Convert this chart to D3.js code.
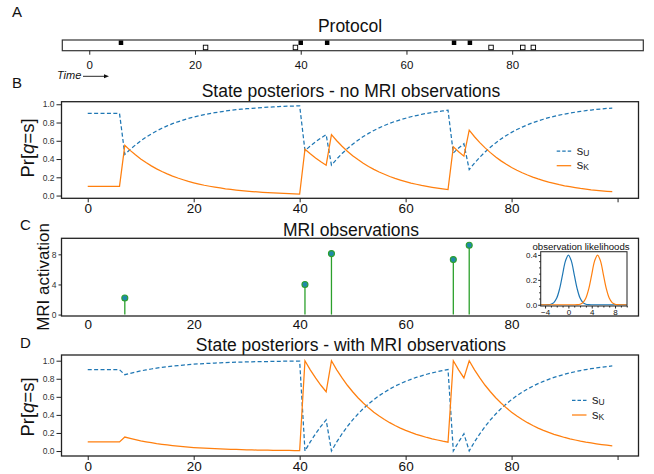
<!DOCTYPE html>
<html>
<head>
<meta charset="utf-8">
<script src="https://cdn.jsdelivr.net/npm/d3@7"></script>
<style>
  body { margin: 0; background: #fff; }
  svg { font-family: "Liberation Sans", Arial, Helvetica, sans-serif; }
</style>
</head>
<body>
<svg id="fig" width="654" height="474"></svg>
<script>
// time steps of the simulation
const times = d3.range(0, 100);

// protocol events
const protocolFilled = [6, 40, 45, 69, 72];
const protocolOpen = [22, 39, 76, 82, 84];

// state posteriors without MRI observations
const sK_noMRI = [
  0.100, 0.100, 0.100, 0.100, 0.100, 0.100, 0.100, 0.550, 0.495, 0.446,
  0.401, 0.361, 0.325, 0.292, 0.263, 0.237, 0.213, 0.192, 0.173, 0.155,
  0.140, 0.126, 0.113, 0.102, 0.092, 0.083, 0.074, 0.067, 0.060, 0.054,
  0.049, 0.044, 0.040, 0.036, 0.032, 0.029, 0.026, 0.023, 0.021, 0.019,
  0.017, 0.508, 0.458, 0.412, 0.370, 0.333, 0.667, 0.600, 0.540, 0.486,
  0.437, 0.394, 0.354, 0.319, 0.287, 0.258, 0.233, 0.209, 0.188, 0.170,
  0.153, 0.137, 0.124, 0.111, 0.100, 0.090, 0.081, 0.073, 0.066, 0.533,
  0.480, 0.432, 0.716, 0.644, 0.580, 0.522, 0.470, 0.423, 0.380, 0.342,
  0.308, 0.277, 0.250, 0.225, 0.202, 0.182, 0.164, 0.147, 0.133, 0.119,
  0.107, 0.097, 0.087, 0.078, 0.071, 0.063, 0.057, 0.051, 0.046, 0.042
];
const sU_noMRI = [
  0.900, 0.900, 0.900, 0.900, 0.900, 0.900, 0.900, 0.450, 0.505, 0.554,
  0.599, 0.639, 0.675, 0.708, 0.737, 0.763, 0.787, 0.808, 0.827, 0.845,
  0.860, 0.874, 0.887, 0.898, 0.908, 0.917, 0.926, 0.933, 0.940, 0.946,
  0.951, 0.956, 0.960, 0.964, 0.968, 0.971, 0.974, 0.977, 0.979, 0.981,
  0.983, 0.492, 0.542, 0.588, 0.630, 0.667, 0.333, 0.400, 0.460, 0.514,
  0.563, 0.606, 0.646, 0.681, 0.713, 0.742, 0.767, 0.791, 0.812, 0.830,
  0.847, 0.863, 0.876, 0.889, 0.900, 0.910, 0.919, 0.927, 0.934, 0.467,
  0.520, 0.568, 0.284, 0.356, 0.420, 0.478, 0.530, 0.577, 0.620, 0.658,
  0.692, 0.723, 0.750, 0.775, 0.798, 0.818, 0.836, 0.853, 0.867, 0.881,
  0.893, 0.903, 0.913, 0.922, 0.929, 0.937, 0.943, 0.949, 0.954, 0.958
];

// MRI observations
const mriTimes = [7, 41, 46, 69, 72];
const mriValues = [2.2, 4.0, 8.1, 7.3, 9.2];

// observation likelihoods (inset)
const likX = [-5, -4.5, -4, -3.5, -3, -2.5, -2, -1.5, -1, -0.5, 0, 0.5, 1, 1.5, 2, 2.5,
  3, 3.5, 4, 4.5, 5, 5.5, 6, 6.5, 7, 7.5, 8, 8.5, 9, 9.5, 10];
const likU = [0, 0, 0.0001, 0.0009, 0.0044, 0.0175, 0.054, 0.1295, 0.242, 0.3521, 0.3989,
  0.3521, 0.242, 0.1295, 0.054, 0.0175, 0.0044, 0.0009, 0.0001, 0, 0, 0, 0, 0, 0, 0, 0, 0, 0, 0, 0];
const likK = [0, 0, 0, 0, 0, 0, 0, 0, 0, 0, 0, 0, 0.0001, 0.0009, 0.0044, 0.0175, 0.054,
  0.1295, 0.242, 0.3521, 0.3989, 0.3521, 0.242, 0.1295, 0.054, 0.0175, 0.0044, 0.0009, 0.0001, 0, 0];

// state posteriors with MRI observations
const sK_MRI = [
  0.100, 0.100, 0.100, 0.100, 0.100, 0.100, 0.100, 0.155, 0.140, 0.126,
  0.113, 0.102, 0.092, 0.082, 0.074, 0.067, 0.060, 0.054, 0.049, 0.044,
  0.039, 0.035, 0.032, 0.029, 0.026, 0.023, 0.021, 0.019, 0.017, 0.015,
  0.014, 0.012, 0.011, 0.010, 0.009, 0.008, 0.007, 0.006, 0.006, 0.005,
  0.005, 0.999, 0.899, 0.809, 0.728, 0.656, 0.999, 0.899, 0.809, 0.728,
  0.656, 0.590, 0.531, 0.478, 0.430, 0.387, 0.349, 0.314, 0.282, 0.254,
  0.229, 0.206, 0.185, 0.167, 0.150, 0.135, 0.122, 0.109, 0.098, 0.999,
  0.899, 0.809, 0.999, 0.899, 0.809, 0.728, 0.656, 0.590, 0.531, 0.478,
  0.430, 0.387, 0.349, 0.314, 0.282, 0.254, 0.229, 0.206, 0.185, 0.167,
  0.150, 0.135, 0.122, 0.109, 0.098, 0.089, 0.080, 0.072, 0.065, 0.058
];
const sU_MRI = [
  0.900, 0.900, 0.900, 0.900, 0.900, 0.900, 0.900, 0.845, 0.860, 0.874,
  0.887, 0.898, 0.908, 0.918, 0.926, 0.933, 0.940, 0.946, 0.951, 0.956,
  0.961, 0.965, 0.968, 0.971, 0.974, 0.977, 0.979, 0.981, 0.983, 0.985,
  0.986, 0.988, 0.989, 0.990, 0.991, 0.992, 0.993, 0.994, 0.994, 0.995,
  0.995, 0.001, 0.101, 0.191, 0.272, 0.344, 0.001, 0.101, 0.191, 0.272,
  0.344, 0.410, 0.469, 0.522, 0.570, 0.613, 0.651, 0.686, 0.718, 0.746,
  0.771, 0.794, 0.815, 0.833, 0.850, 0.865, 0.878, 0.891, 0.902, 0.001,
  0.101, 0.191, 0.001, 0.101, 0.191, 0.272, 0.344, 0.410, 0.469, 0.522,
  0.570, 0.613, 0.651, 0.686, 0.718, 0.746, 0.771, 0.794, 0.815, 0.833,
  0.850, 0.865, 0.878, 0.891, 0.902, 0.911, 0.920, 0.928, 0.935, 0.942
];

const xTicks = [0, 20, 40, 60, 80];
const postTicks = [0, 0.2, 0.4, 0.6, 0.8, 1.0];
const mriTicks = [0, 4, 8];

const BLUE = "#1f77b4";
const ORANGE = "#ff7f0e";
const GREEN = "#2ca02c";
const SPINE = "#222";

const svg = d3.select("#fig");
svg.append("rect").attr("width", 654).attr("height", 474).attr("fill", "#fff");

// plot area shared by B, C, D
const PLOT_L = 61.5, PLOT_R = 638.5;
const xMain = d3.scaleLinear().domain([-4.95, 103.95]).range([PLOT_L, PLOT_R]);

drawProtocol();
drawPosterior(101.7, 198.3, [-0.03, 1.028], sU_noMRI, sK_noMRI, "State posteriors - no MRI observations", 96.5, 151, 148);
drawMRI();
drawPosterior(355, 456, [-0.055, 1.063], sU_MRI, sK_MRI, "State posteriors - with MRI observations", 350.5, 400.3, 407);

// panel letters
[["A", 12, 17], ["B", 12, 88], ["C", 20, 230], ["D", 20, 348]].forEach(p => {
  svg.append("text").attr("x", p[1]).attr("y", p[2]).attr("font-size", 15).attr("fill", "#111").text(p[0]);
});

function styleAxis (g, size) {
  g.select(".domain").remove();
  g.selectAll(".tick line").attr("stroke", SPINE);
  g.selectAll("text").attr("font-size", size).attr("fill", "#111")
    .attr("font-family", "'Liberation Sans', Arial, sans-serif");
}

function spines (top, bottom, left, right) {
  svg.append("rect")
    .attr("x", left).attr("y", top)
    .attr("width", right - left).attr("height", bottom - top)
    .attr("fill", "none").attr("stroke", SPINE).attr("stroke-width", 1.3);
}

/**
 * Panel A: protocol strip
 */
function drawProtocol () {
  let x = d3.scaleLinear().domain([-5.1, 104.8]).range([62.3, 643.3]);
  const top = 40, bottom = 50.7, sq = 4.5;

  svg.append("text").attr("x", 350).attr("y", 32).attr("text-anchor", "middle")
    .attr("font-size", 17.5).attr("fill", "#111").text("Protocol");

  svg.append("rect").attr("x", 62.3).attr("y", top).attr("width", 643.3 - 62.3)
    .attr("height", bottom - top).attr("fill", "#fff").attr("stroke", "#333").attr("stroke-width", 1.2);

  svg.selectAll(".pfill").data(protocolFilled).enter().append("rect")
    .attr("class", "pfill")
    .attr("x", d => x(d) - sq / 2).attr("y", top + 0.5)
    .attr("width", sq).attr("height", sq).attr("fill", "#000");

  svg.selectAll(".popen").data(protocolOpen).enter().append("rect")
    .attr("class", "popen")
    .attr("x", d => x(d) - sq / 2).attr("y", bottom - sq - 1)
    .attr("width", sq).attr("height", sq).attr("fill", "#fff").attr("stroke", "#000").attr("stroke-width", 0.9);

  let ax = svg.append("g").attr("transform", "translate(0," + bottom + ")")
    .call(d3.axisBottom(x).tickValues(xTicks).tickSize(4).tickPadding(6).tickFormat(d3.format("d")));
  styleAxis(ax, 11.5);

  // time arrow
  svg.append("text").attr("x", 57).attr("y", 78.5).attr("font-size", 11)
    .attr("font-style", "italic").attr("fill", "#111").text("Time");
  svg.append("line").attr("x1", 83).attr("x2", 105).attr("y1", 76.3).attr("y2", 76.3)
    .attr("stroke", "#111").attr("stroke-width", 0.9);
  svg.append("path").attr("d", "M104,74.3 L109,76.3 L104,78.3 Z").attr("fill", "#111");
}

/**
 * Panels B and D: posterior curves
 */
function drawPosterior (top, bottom, yDomain, sU, sK, title, titleY, legendY, labelY) {
  let y = d3.scaleLinear().domain(yDomain).range([bottom, top]);

  svg.append("text").attr("x", 351).attr("y", titleY).attr("text-anchor", "middle")
    .attr("font-size", 17.5).attr("fill", "#111").text(title);

  let lineU = d3.line().x((d, i) => xMain(times[i])).y(d => y(d));

  svg.append("path").datum(sU).attr("d", lineU)
    .attr("fill", "none").attr("stroke", BLUE).attr("stroke-width", 1.25)
    .attr("stroke-dasharray", "4,2.4");
  svg.append("path").datum(sK).attr("d", lineU)
    .attr("fill", "none").attr("stroke", ORANGE).attr("stroke-width", 1.25);

  spines(top, bottom, PLOT_L, PLOT_R);

  let ax = svg.append("g").attr("transform", "translate(0," + bottom + ")")
    .call(d3.axisBottom(xMain).tickValues([0, 20, 40, 60, 80, 100]).tickSize(4).tickPadding(1.5)
      .tickFormat(d => d === 100 ? "" : d));
  styleAxis(ax, 13.5);

  let ay = svg.append("g").attr("transform", "translate(" + PLOT_L + ",0)")
    .call(d3.axisLeft(y).tickValues(postTicks).tickSize(5).tickPadding(2).tickFormat(d3.format(".1f")));
  styleAxis(ay, 8.5);
  ay.selectAll("text").attr("fill", "#333");

  // y label Pr[q=s]
  let lab = svg.append("text").attr("transform", "translate(34," + labelY + ") rotate(-90)")
    .attr("text-anchor", "middle").attr("font-size", 18.5).attr("fill", "#111");
  lab.append("tspan").text("Pr[");
  lab.append("tspan").attr("font-style", "italic").text("q");
  lab.append("tspan").text("=s]");

  // legend
  let lx = legendY < 200 ? 556.7 : 572;
  let items = [["U", BLUE, "4,2.4"], ["K", ORANGE, null]];
  items.forEach((it, i) => {
    let ly = legendY + i * 14.7;
    let ln = svg.append("line").attr("x1", lx).attr("x2", lx + 14.5).attr("y1", ly).attr("y2", ly)
      .attr("stroke", it[1]).attr("stroke-width", 1.25);
    if (it[2]) ln.attr("stroke-dasharray", "3.5,2");
    let t = svg.append("text").attr("x", lx + 20).attr("y", ly + 3.5).attr("font-size", 13).attr("fill", "#222");
    t.append("tspan").text("s");
    t.append("tspan").attr("font-size", 8.5).attr("dy", 1).text(it[0]);
  });
}

/**
 * Panel C: MRI activations as stems, with likelihood inset
 */
function drawMRI () {
  const top = 238.3, bottom = 316;
  let y = d3.scaleLinear().domain([-0.19, 10.13]).range([bottom, top]);

  svg.append("text").attr("x", 351).attr("y", 236).attr("text-anchor", "middle")
    .attr("font-size", 17.5).attr("fill", "#111").text("MRI observations");

  svg.selectAll(".stem").data(mriTimes).enter().append("line")
    .attr("class", "stem")
    .attr("x1", d => xMain(d)).attr("x2", d => xMain(d))
    .attr("y1", y(0)).attr("y2", (d, i) => y(mriValues[i]))
    .attr("stroke", GREEN).attr("stroke-width", 1.3);

  svg.selectAll(".stemhead").data(mriTimes).enter().append("circle")
    .attr("class", "stemhead")
    .attr("cx", d => xMain(d)).attr("cy", (d, i) => y(mriValues[i]))
    .attr("r", 3).attr("fill", "#1f8aa8").attr("stroke", GREEN).attr("stroke-width", 1.1);

  spines(top, bottom, PLOT_L, PLOT_R);

  let ax = svg.append("g").attr("transform", "translate(0," + bottom + ")")
    .call(d3.axisBottom(xMain).tickValues(xTicks).tickSize(0).tickPadding(3.5));
  styleAxis(ax, 13.5);

  let ay = svg.append("g").attr("transform", "translate(" + PLOT_L + ",0)")
    .call(d3.axisLeft(y).tickValues(mriTicks).tickSize(3).tickPadding(2));
  styleAxis(ay, 8.5);
  ay.selectAll("text").attr("fill", "#333");

  svg.append("text").attr("transform", "translate(49,277) rotate(-90)")
    .attr("text-anchor", "middle").attr("font-size", 17).attr("fill", "#111").text("MRI activation");

  drawInset();
}

function drawInset () {
  const l = 540.7, r = 627, t = 251.7, b = 306;
  let x = d3.scaleLinear().domain([-4.75, 10.05]).range([l, r]);
  let y = d3.scaleLinear().domain([-0.01, 0.426]).range([b, t]);

  svg.append("rect").attr("x", l).attr("y", t).attr("width", r - l).attr("height", b - t).attr("fill", "#fff");

  svg.append("clipPath").attr("id", "insetClip").append("rect")
    .attr("x", l).attr("y", t).attr("width", r - l).attr("height", b - t);

  let line = d3.line().x((d, i) => x(likX[i])).y(d => y(d)).curve(d3.curveCatmullRom);
  let g = svg.append("g").attr("clip-path", "url(#insetClip)");
  g.append("path").datum(likU).attr("d", line).attr("fill", "none").attr("stroke", BLUE).attr("stroke-width", 1.2);
  g.append("path").datum(likK).attr("d", line).attr("fill", "none").attr("stroke", ORANGE).attr("stroke-width", 1.2);

  svg.append("rect").attr("x", l).attr("y", t).attr("width", r - l).attr("height", b - t)
    .attr("fill", "none").attr("stroke", "#333").attr("stroke-width", 1.1);

  svg.append("text").attr("x", 581).attr("y", 250).attr("text-anchor", "middle")
    .attr("font-size", 9.6).attr("fill", "#111").text("observation likelihoods");

  let ax = svg.append("g").attr("transform", "translate(0," + b + ")")
    .call(d3.axisBottom(x).tickValues([-4, 0, 4, 8]).tickSize(2.5).tickPadding(1));
  styleAxis(ax, 8);
  let axm = svg.append("g").attr("transform", "translate(0," + b + ")")
    .call(d3.axisBottom(x).tickValues([-3, -2, -1, 1, 2, 3, 5, 6, 7, 9, 10]).tickSize(1.5).tickFormat(""));
  styleAxis(axm, 8);

  let ay = svg.append("g").attr("transform", "translate(" + l + ",0)")
    .call(d3.axisLeft(y).tickValues([0, 0.2, 0.4]).tickSize(2.5).tickPadding(1).tickFormat(d3.format(".1f")));
  styleAxis(ay, 8);
  let aym = svg.append("g").attr("transform", "translate(" + l + ",0)")
    .call(d3.axisLeft(y).tickValues([0.05, 0.1, 0.15, 0.25, 0.3, 0.35]).tickSize(1.5).tickFormat(""));
  styleAxis(aym, 8);
}
</script>
</body>
</html>
